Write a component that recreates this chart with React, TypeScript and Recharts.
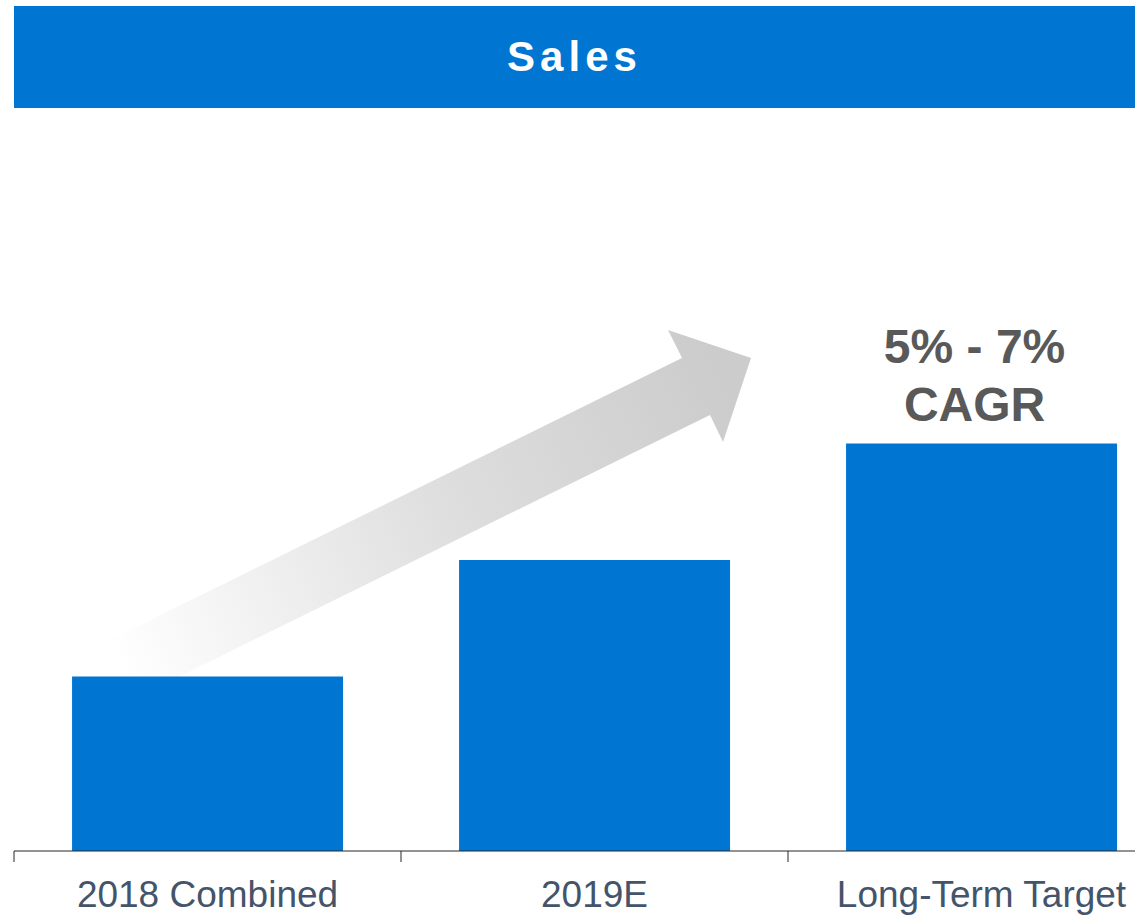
import { Bar, BarChart, XAxis, YAxis } from "recharts";

const categories = ["2018 Combined", "2019E", "Long-Term Target"];
const sales = [30, 50, 70];
const cagrLines = ["5% - 7%", "CAGR"];

const data = categories.map((name, i) => ({ name, sales: sales[i] }));

const font = "'Liberation Sans', Arial, sans-serif";
const blue = "#0076D2";
const axisColor = "#262626";

// label at the band centre, tick mark at the band's left edge
function CategoryTick(props: any) {
  const { x, y, payload } = props;
  const edge = x - (payload.offset ?? 0);
  return (
    <g>
      <line x1={edge} x2={edge} y1={y} y2={y + 11} stroke={axisColor} />
      <text
        x={x}
        y={y + 56}
        textAnchor="middle"
        fill="#44546A"
        fontSize={37}
        fontFamily={font}
      >
        {payload.value}
      </text>
    </g>
  );
}

function CagrLabel(props: any) {
  const { x, y, width, index } = props;
  if (index !== categories.length - 1) return null;
  const cx = x + width / 2 - 7;
  return (
    <text
      textAnchor="middle"
      fill="#595959"
      fontSize={48}
      fontWeight="bold"
      fontFamily={font}
    >
      <tspan x={cx} y={y - 81}>
        {cagrLines[0]}
      </tspan>
      <tspan x={cx} y={y - 23}>
        {cagrLines[1]}
      </tspan>
    </text>
  );
}

// decorative growth arrow behind the bars
function GrowthArrow() {
  return (
    <svg
      width={1135}
      height={917}
      style={{ position: "absolute", left: 0, top: 0 }}
    >
      <defs>
        <linearGradient id="arrowFade" x1="120" y1="670" x2="720" y2="380" gradientUnits="userSpaceOnUse">
          <stop offset="0" stopColor="#ffffff" />
          <stop offset="0.55" stopColor="#dedede" />
          <stop offset="1" stopColor="#cccccc" />
        </linearGradient>
      </defs>
      <polygon
        points="110,640 682,358 668,330 751,358 723,442 710,415 138,697"
        fill="url(#arrowFade)"
      />
    </svg>
  );
}

export default function App() {
  return (
    <div
      style={{
        position: "relative",
        width: 1135,
        height: 917,
        overflow: "hidden",
        background: "#fff",
      }}
    >
      <style>{`body { margin: 0; }`}</style>
      <GrowthArrow />
      <div style={{ position: "absolute", left: 0, top: 0 }}>
        <BarChart
          width={1175}
          height={917}
          data={data}
          margin={{ top: 269, right: 0, bottom: 0, left: 14 }}
          barCategoryGap="15%"
        >
          <XAxis
            dataKey="name"
            height={66}
            axisLine={{ stroke: axisColor }}
            tickLine={false}
            tickSize={0}
            tickMargin={0}
            interval={0}
            tick={<CategoryTick />}
          />
          <YAxis hide domain={[0, 100]} />
          <Bar
            dataKey="sales"
            fill={blue}
            isAnimationActive={false}
            label={<CagrLabel />}
          />
        </BarChart>
      </div>
      <div
        style={{
          position: "absolute",
          left: 14,
          top: 6,
          width: 1121,
          height: 102,
          background: blue,
          color: "#fff",
          fontFamily: font,
          fontWeight: "bold",
          fontSize: 42,
          letterSpacing: 5,
          textAlign: "center",
          lineHeight: "102px",
        }}
      >
        Sales
      </div>
    </div>
  );
}
